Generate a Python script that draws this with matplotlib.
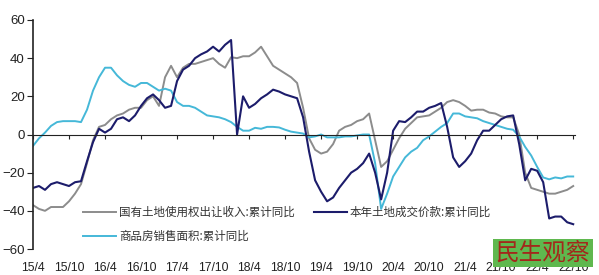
import matplotlib
matplotlib.use('Agg')
import matplotlib.pyplot as plt
from matplotlib.patches import Rectangle
import numpy as np

# monthly, 2015/4 .. 2022/10
tick_labels = ['15/4', '15/10', '16/4', '16/10', '17/4', '17/10', '18/4', '18/10',
               '19/4', '19/10', '20/4', '20/10', '21/4', '21/10', '22/4', '22/10']

land_income = [-37, -39, -40, -38, -38, -38, -35, -31, -26, -15, -3, 4,
               5, 8, 10, 11, 13, 14, 14, 18, 20, 15, 30, 36,
               30, 35, 37, 37, 38, 39, 40, 37, 35, 40.5, 40, 41,
               41, 43, 46, 41, 36, 34, 32, 30, 27, 14, -2, -8,
               -10, -9, -5, 2, 4, 5, 7, 8, 11, -3, -17, -14,
               -8, -2, 3, 6, 9, 9.5, 10, 12, 14, 17, 18, 17,
               15, 12.5, 13, 13, 11.5, 11, 9.5, 9, 9, 0, -20, -28,
               -29, -30, -31, -31, -30, -29, -27]

land_deal = [-28, -27, -29, -26, -25, -26, -27, -25, -24.5, -14, -4, 3,
             1, 3, 8, 9, 7, 10, 15, 19, 21, 18, 14, 15,
             28, 34, 36, 40, 42, 43.5, 46, 43.5, 47, 49.5, 0, 20,
             14, 16, 19, 21, 23.5, 22.5, 21, 20, 19, 9, -9, -24,
             -30, -35, -33, -28, -24, -20, -18, -15, -10, -20, -34, -20,
             2, 7, 6.5, 9, 12, 12, 14, 15, 16.5, 4, -12, -17,
             -14, -10, -3, 2, 2, 5, 8, 9.5, 10, -5, -24, -18,
             -19, -25, -44, -43, -43, -46, -47]

house_area = [-6, -2, 1, 4.5, 6.5, 7, 7, 7, 6.5, 13, 23, 30,
              35, 35, 31, 28, 26, 25, 27, 27, 25, 23, 24, 23,
              17, 15, 15, 14, 12, 10, 9.5, 9, 8, 6.5, 4, 2,
              2, 3.5, 3, 4, 4, 3.7, 2.5, 1.5, 1, 0.5, -1.5, -1,
              0, -1.5, -1.5, -1.5, -1, -1, -0.5, 0, 0, -15, -39, -31,
              -22, -17, -12, -9, -7, -3, -1, 1.5, 4, 6, 11, 11,
              9.5, 9, 8.5, 7, 6, 5, 4, 3, 2.5, -1, -6.5, -11,
              -17, -22.5, -23.5, -22.5, -23, -22, -22]

names = ['国有土地使用权出让收入:累计同比', '本年土地成交价款:累计同比', '商品房销售面积:累计同比']
colors = ['#8c8c8c', '#1c1c6b', '#45b8d8']

plt.rcParams['font.family'] = ['Liberation Sans', 'DejaVu Sans']
cjk = ['Noto Sans CJK SC', 'DejaVu Sans']

fig = plt.figure(figsize=(5.99, 2.75), dpi=100)
ax = fig.add_axes([33/599, 1-249/275, (575-33)/599, (249-20)/275])

x = np.arange(len(land_income))
l1, = ax.plot(x, land_income, color=colors[0], lw=1.4)
l3, = ax.plot(x, house_area, color=colors[2], lw=1.4)
l2, = ax.plot(x, land_deal, color=colors[1], lw=1.5)

ax.set_ylim(-60, 60)
ax.set_xlim(0, 90.3)
ax.set_yticks([-60, -40, -20, 0, 20, 40, 60])
ax.set_xticks(np.arange(0, 91, 6))
ax.set_xticklabels(tick_labels)

for s in ['top', 'right']:
    ax.spines[s].set_visible(False)
ax.spines['bottom'].set_position(('data', 0))
ax.spines['bottom'].set_color('#222222')
ax.spines['left'].set_color('#222222')
ax.spines['left'].set_linewidth(1.2)

ax.tick_params(axis='y', direction='out', length=4, labelsize=9.5, colors='#222222', pad=2)
# x labels sit at the bottom of the chart, not next to the zero line
ax.tick_params(axis='x', direction='out', length=3, labelsize=8.8, colors='#222222', pad=89)

leg = ax.legend([l1, l3, l2], [names[0], names[2], names[1]], ncol=2,
                loc='upper left', bbox_to_anchor=(83/599, 1-206/275),
                bbox_transform=fig.transFigure, frameon=False,
                prop={'family': cjk, 'size': 8.3}, handlelength=2.9,
                handletextpad=0.25, columnspacing=1.6, labelspacing=0.95,
                borderaxespad=0, borderpad=0)
for t in leg.get_texts():
    t.set_color('#333333')

# watermark box
fig.patches.append(Rectangle((493/599, 1-267/275), 100/599, 28/275,
                             transform=fig.transFigure, facecolor='#5fb84e',
                             edgecolor='none', zorder=5))
fig.text(543/599, 1-253/275, '民生观察', family=cjk, fontsize=17, color='#a3271b',
         ha='center', va='center', zorder=6)

fig.savefig('out.png', dpi=100)
